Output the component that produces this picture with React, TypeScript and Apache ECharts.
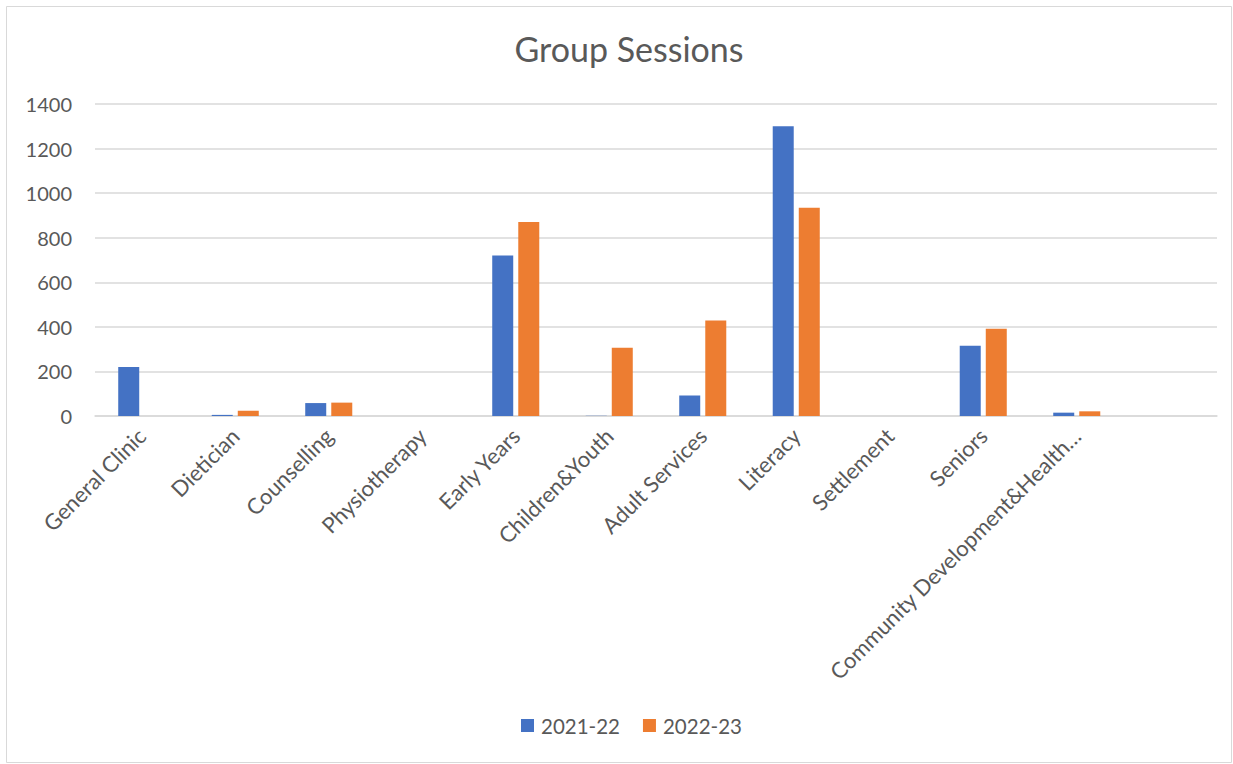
import React, { useEffect, useRef } from "react";
import * as echarts from "echarts";

const categories = [
  "General Clinic",
  "Dietician",
  "Counselling",
  "Physiotherapy",
  "Early Years",
  "Children&Youth",
  "Adult Services",
  "Literacy",
  "Settlement",
  "Seniors",
  "Community Development&Health…",
  "",
];
const series2021 = [220, 5, 58, 0, 720, 1, 92, 1300, 0, 315, 15, null];
const series2022 = [0, 24, 60, 0, 870, 306, 429, 935, 0, 392, 21, null];
const yTicks = { min: 0, max: 1400, interval: 200 };

const FONT = "Lato, 'Open Sans', sans-serif";
const TEXT = "#595959";

export default function App() {
  const ref = useRef<HTMLDivElement>(null);
  useEffect(() => {
    const chart = echarts.init(ref.current!, null, { renderer: "svg" });
    chart.setOption({
      animation: false,
      backgroundColor: "#ffffff",
      title: {
        text: "Group Sessions",
        left: 624,
        top: 26,
        textAlign: "center",
        textStyle: { fontFamily: FONT, fontSize: 34, fontWeight: "normal", color: TEXT },
      },
      legend: {
        left: 516,
        top: 710,
        itemWidth: 13,
        itemHeight: 13,
        itemGap: 23,
        icon: "rect",
        textStyle: { fontFamily: FONT, fontSize: 20.5, color: TEXT, padding: [0, 0, 0, 2] },
        data: ["2021-22", "2022-23"],
      },
      graphic: [
        {
          type: "rect",
          shape: { x: 6.5, y: 6.5, width: 1225, height: 756 },
          style: { fill: "none", stroke: "#d9d9d9", lineWidth: 1 },
          silent: true,
        },
      ],
      grid: { left: 95, top: 104, width: 1122, height: 312 },
      xAxis: {
        type: "category",
        data: categories,
        axisLine: { lineStyle: { color: "#d9d9d9", width: 1.5 } },
        axisTick: { show: false },
        axisLabel: {
          interval: 0,
          rotate: 45,
          margin: 16,
          fontFamily: FONT,
          fontSize: 22,
          color: TEXT,
        },
      },
      yAxis: {
        type: "value",
        min: yTicks.min,
        max: yTicks.max,
        interval: yTicks.interval,
        axisLine: { show: false },
        axisTick: { show: false },
        splitLine: { lineStyle: { color: "#d9d9d9", width: 1.5 } },
        axisLabel: {
          margin: 23,
          fontFamily: FONT,
          fontSize: 20,
          color: TEXT,
          formatter: (v: number) => String(v),
        },
      },
      series: [
        {
          name: "2021-22",
          type: "bar",
          data: series2021,
          barWidth: 21,
          barGap: "24%",
          itemStyle: { color: "#4472C4" },
        },
        {
          name: "2022-23",
          type: "bar",
          data: series2022,
          barWidth: 21,
          barGap: "24%",
          itemStyle: { color: "#ED7D31" },
        },
      ],
    });
    return () => chart.dispose();
  }, []);
  return (
    <div
      ref={ref}
      style={{ position: "absolute", left: 0, top: 0, width: 1233, height: 764 }}
    />
  );
}
